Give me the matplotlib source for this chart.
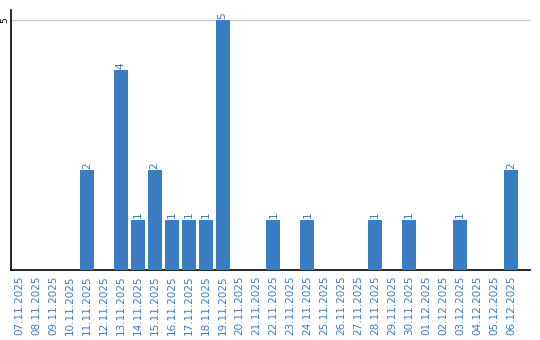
import matplotlib
matplotlib.use("Agg")
import matplotlib.pyplot as plt

dates = ["07.11.2025", "08.11.2025", "09.11.2025", "10.11.2025", "11.11.2025",
         "12.11.2025", "13.11.2025", "14.11.2025", "15.11.2025", "16.11.2025",
         "17.11.2025", "18.11.2025", "19.11.2025", "20.11.2025", "21.11.2025",
         "22.11.2025", "23.11.2025", "24.11.2025", "25.11.2025", "26.11.2025",
         "27.11.2025", "28.11.2025", "29.11.2025", "30.11.2025", "01.12.2025",
         "02.12.2025", "03.12.2025", "04.12.2025", "05.12.2025", "06.12.2025"]
values = [0, 0, 0, 0, 2, 0, 4, 1, 2, 1, 1, 1, 5, 0, 0, 1, 0, 1, 0, 0,
          0, 1, 0, 1, 0, 0, 1, 0, 0, 2]
yticks = [5]

BLUE = "#3b7dc2"

fig = plt.figure(figsize=(5.4, 3.4), dpi=100)
ax = fig.add_axes([11/540, 70/340, 519/540, 260/340])

x = list(range(len(dates)))
ax.bar(x, values, width=14/17, color=BLUE, zorder=3)
for xi, v in zip(x, values):
    if v > 0:
        ax.text(xi, v + 0.03, str(v), rotation=90, ha="center", va="bottom",
                color=BLUE, fontsize=7.5)

ax.set_xlim(-0.47, 30.12)
ax.set_ylim(0, 5.2)
ax.set_yticks(yticks)
ax.set_yticklabels([str(t) for t in yticks], rotation=90, va="center", fontsize=6.5)
ax.yaxis.grid(True, color="#c8c8c8", linewidth=1, zorder=0)
ax.tick_params(axis="y", length=0, pad=1)
ax.set_xticks(x)
ax.set_xticklabels(dates, rotation=90, color=BLUE, fontsize=7.5, va="top")
ax.tick_params(axis="x", length=0, pad=4)

for s in ["top", "right"]:
    ax.spines[s].set_visible(False)
ax.spines["left"].set_color("black")
ax.spines["bottom"].set_color("black")
ax.spines["left"].set_linewidth(1.2)
ax.spines["bottom"].set_linewidth(1.2)

fig.savefig("out.png", dpi=100)
